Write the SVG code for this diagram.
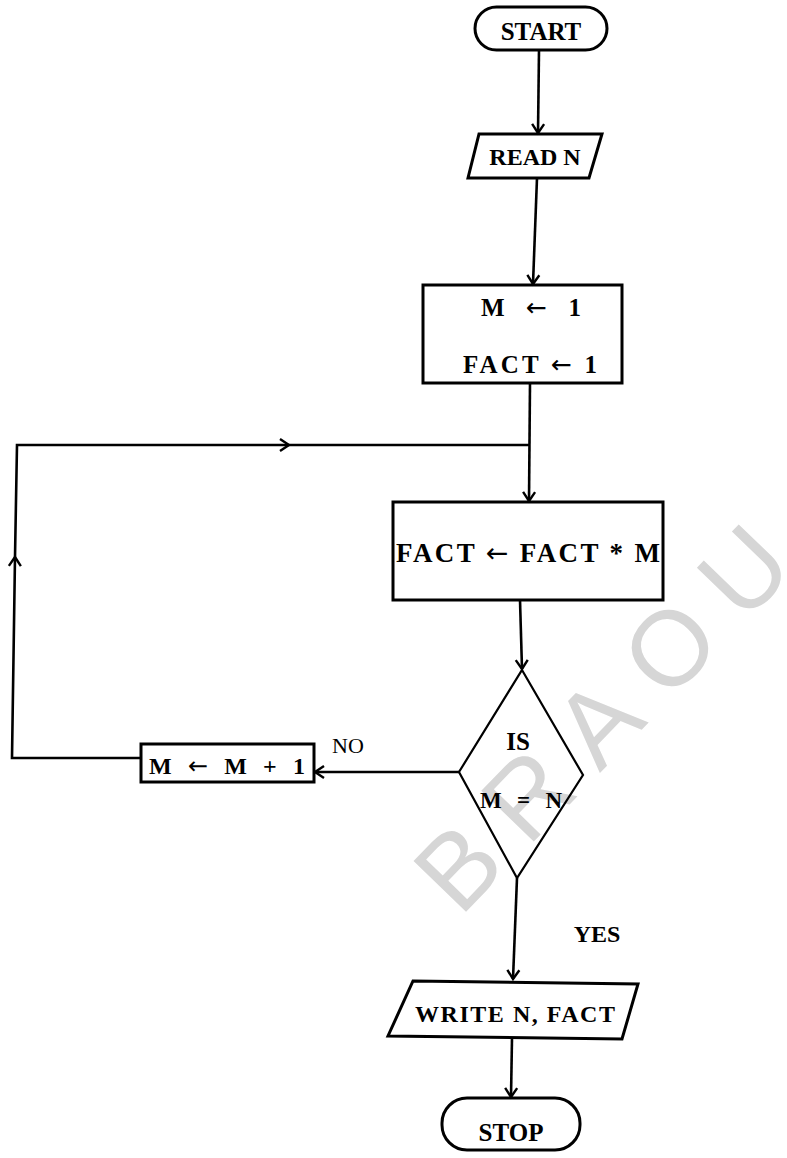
<svg xmlns="http://www.w3.org/2000/svg" width="787" height="1158" viewBox="0 0 787 1158">
<style>
.shape{fill:none;stroke:#000;stroke-width:3;stroke-linejoin:miter}
.dia{fill:none;stroke:#000;stroke-width:2.2}
.ln{fill:none;stroke:#000;stroke-width:2.6}
.t{font-family:"Liberation Serif","Times New Roman",serif;font-weight:bold;fill:#000;text-anchor:middle}
.a{font-family:"DejaVu Sans",sans-serif;font-weight:normal}
.lbl{font-family:"Liberation Serif","Times New Roman",serif;fill:#000}
.wm{font-family:"Liberation Sans",Arial,sans-serif;font-size:106px;fill:#d6d6d6;letter-spacing:27px}
</style>
<defs>
<marker id="arr" markerUnits="userSpaceOnUse" markerWidth="20" markerHeight="20" viewBox="-12 -10 14 20" refX="0" refY="0" orient="auto">
<path d="M-9,-6 L0,0 L-9,6" fill="none" stroke="#000" stroke-width="2.4"/>
</marker>
</defs>
<rect width="787" height="1158" fill="#fff"/>
<text class="wm" x="460" y="918" transform="rotate(-46 460 918)">BRAOU</text>
<g id="connectors">
<path class="ln" d="M539,50 L538,133" marker-end="url(#arr)"/>
<path class="ln" d="M537,178 L533,284" marker-end="url(#arr)"/>
<path class="ln" d="M530,383 L529,501" marker-end="url(#arr)"/>
<path class="ln" d="M520,600 L522,669" marker-end="url(#arr)"/>
<path class="ln" d="M459,772 L315,772" marker-end="url(#arr)"/>
<path class="ln" d="M517,878 L513,979" marker-end="url(#arr)"/>
<path class="ln" d="M512,1038 L511,1097" marker-end="url(#arr)"/>
<path class="ln" d="M141,758 L12,758 L15,557" marker-end="url(#arr)"/>
<path class="ln" d="M15,557 L17,445 L289,445" marker-end="url(#arr)"/>
<path class="ln" d="M289,445 L529,445"/>
</g>
<g id="start">
<rect class="shape" x="475" y="7" width="132" height="43" rx="21.5"/>
<text class="t" x="541" y="40" font-size="25">START</text>
</g>
<g id="read">
<polygon class="shape" points="479,134 602,134 589,178 468,178"/>
<text class="t" x="535" y="165" font-size="24">READ N</text>
</g>
<g id="init">
<rect class="shape" x="423" y="285" width="199" height="98"/>
<text class="t" x="531" y="316" font-size="25" textLength="100" lengthAdjust="spacing">M <tspan class="a">←</tspan> 1</text>
<text class="t" x="530" y="373" font-size="25" textLength="134" lengthAdjust="spacing">FACT <tspan class="a">←</tspan> 1</text>
</g>
<g id="multiply">
<rect class="shape" x="393" y="502" width="270" height="98"/>
<text class="t" x="528" y="562" font-size="27" textLength="264" lengthAdjust="spacing">FACT <tspan class="a">←</tspan> FACT * M</text>
</g>
<g id="decision">
<polygon class="dia" points="522,670 583,775 517,878 459,772"/>
<text class="t" x="518" y="750" font-size="25">IS</text>
<text class="t" x="521" y="808" font-size="23" textLength="82" lengthAdjust="spacing">M = N</text>
</g>
<g id="increment">
<rect class="shape" x="141" y="744" width="173" height="38"/>
<text class="t" x="227" y="774" font-size="24" textLength="156" lengthAdjust="spacing">M <tspan class="a">←</tspan> M + 1</text>
<text class="lbl" x="332" y="753" font-size="22">NO</text>
</g>
<g id="write">
<polygon class="shape" points="413,981 638,984 622,1039 388,1036"/>
<text class="t" x="515" y="1022" font-size="24" textLength="200" lengthAdjust="spacing">WRITE N,  FACT</text>
<text class="t" x="597" y="942" font-size="24">YES</text>
</g>
<g id="stop">
<rect class="shape" x="442" y="1098" width="138" height="52" rx="25"/>
<text class="t" x="511" y="1141" font-size="25">STOP</text>
</g>
</svg>
